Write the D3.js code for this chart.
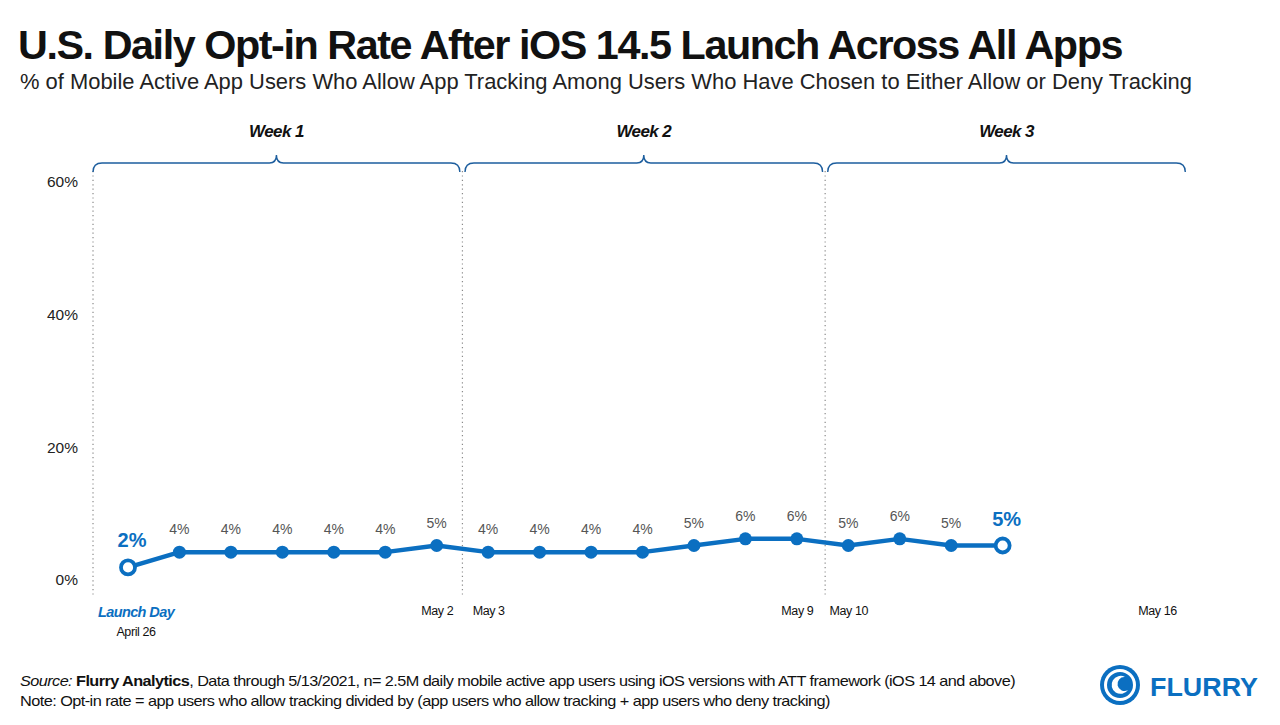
<!DOCTYPE html>
<html lang="en">
<head>
    <meta charset="UTF-8">
    <title>U.S. Daily Opt-in Rate</title>
    <script src="https://d3js.org/d3.v7.min.js"></script>
    <style>
        body { margin: 0; background: #fff; }
        text { font-family: "Liberation Sans", Arial, sans-serif; }
        .axis path, .axis line { display: none; }
    </style>
</head>
<body>
<div id="chart"></div>
<script>
    // data (day 0 = April 26)
    var days = ["Apr 26", "Apr 27", "Apr 28", "Apr 29", "Apr 30", "May 1", "May 2",
        "May 3", "May 4", "May 5", "May 6", "May 7", "May 8", "May 9",
        "May 10", "May 11", "May 12", "May 13"];
    var optIn = [1.9, 4.2, 4.2, 4.2, 4.2, 4.2, 5.2,
        4.2, 4.2, 4.2, 4.2, 5.2, 6.2, 6.2,
        5.2, 6.2, 5.2, 5.2];
    var tickDays = [6, 7, 13, 14, 20];
    var tickLabels = ["May 2", "May 3", "May 9", "May 10", "May 16"];
    var yTicks = [0, 20, 40, 60];
    var weeks = ["Week 1", "Week 2", "Week 3"];
    var weekStart = [-0.68, 6.55, 13.6];
    var weekEnd = [6.45, 13.5, 20.55];
    var dividers = [-0.68, 6.5, 13.55];

    var W = 1280, H = 725;
    var blue = "#0b6fc1", braceBlue = "#1d5e9e";

    var svg = d3.select("#chart").append("svg")
        .attr("width", W)
        .attr("height", H);

    var x = d3.scaleLinear().domain([0, 20]).range([128, 1157]);
    var y = d3.scaleLinear().domain([0, 60]).range([580, 182]);

    // title + subtitle
    svg.append("text")
        .attr("x", 18).attr("y", 59)
        .attr("font-size", 40).attr("font-weight", "bold")
        .attr("letter-spacing", -1.4)
        .attr("textLength", 1104).attr("lengthAdjust", "spacingAndGlyphs")
        .attr("fill", "#111")
        .text("U.S. Daily Opt-in Rate After iOS 14.5 Launch Across All Apps");

    svg.append("text")
        .attr("x", 20).attr("y", 89)
        .attr("font-size", 22)
        .attr("textLength", 1172).attr("lengthAdjust", "spacingAndGlyphs")
        .attr("fill", "#222")
        .text("% of Mobile Active App Users Who Allow App Tracking Among Users Who Have Chosen to Either Allow or Deny Tracking");

    // week dividers
    svg.selectAll(".divider")
        .data(dividers)
        .enter().append("line")
        .attr("class", "divider")
        .attr("x1", function (d) { return x(d); })
        .attr("x2", function (d) { return x(d); })
        .attr("y1", 171).attr("y2", 596)
        .attr("stroke", "#8a8a8a")
        .attr("stroke-width", 1.2)
        .attr("stroke-dasharray", "1.2,3.2");

    // week braces
    var braceY = 163;
    function brace(s, e) {
        var m = (s + e) / 2;
        return "M" + s + "," + (braceY + 9) +
            " Q" + s + "," + braceY + " " + (s + 9) + "," + braceY +
            " L" + (m - 7) + "," + braceY +
            " Q" + m + "," + braceY + " " + m + "," + (braceY - 8) +
            " Q" + m + "," + braceY + " " + (m + 7) + "," + braceY +
            " L" + (e - 9) + "," + braceY +
            " Q" + e + "," + braceY + " " + e + "," + (braceY + 9);
    }

    var wk = svg.selectAll(".week")
        .data(weeks)
        .enter().append("g")
        .attr("class", "week");

    wk.append("path")
        .attr("d", function (d, i) { return brace(x(weekStart[i]), x(weekEnd[i])); })
        .attr("fill", "none")
        .attr("stroke", braceBlue)
        .attr("stroke-width", 1.4);

    wk.append("text")
        .attr("x", function (d, i) { return (x(weekStart[i]) + x(weekEnd[i])) / 2; })
        .attr("y", 137)
        .attr("text-anchor", "middle")
        .attr("font-size", 17)
        .attr("font-weight", "bold")
        .attr("font-style", "italic")
        .attr("letter-spacing", -0.6)
        .attr("fill", "#111")
        .text(function (d) { return d; });

    // y axis labels
    svg.append("g")
        .attr("class", "axis")
        .attr("transform", "translate(93,0)")
        .call(d3.axisLeft(y).tickValues(yTicks).tickSize(0).tickPadding(15)
            .tickFormat(function (d) { return d + "%"; }))
        .selectAll("text")
        .attr("font-size", 15.5)
        .attr("font-family", "Liberation Sans, Arial, sans-serif")
        .attr("fill", "#222");

    // x axis labels
    svg.append("g")
        .attr("class", "axis")
        .attr("transform", "translate(0,606)")
        .call(d3.axisBottom(x).tickValues(tickDays).tickSize(0).tickPadding(0)
            .tickFormat(function (d, i) { return tickLabels[i]; }))
        .selectAll("text")
        .attr("font-size", 12.5)
        .attr("font-family", "Liberation Sans, Arial, sans-serif")
        .attr("letter-spacing", -0.4)
        .attr("fill", "#111");

    svg.append("text")
        .attr("x", x(0) + 8).attr("y", 617)
        .attr("text-anchor", "middle")
        .attr("font-size", 14.5).attr("font-weight", "bold").attr("font-style", "italic")
        .attr("letter-spacing", -0.6)
        .attr("fill", blue)
        .text("Launch Day");

    svg.append("text")
        .attr("x", x(0) + 8).attr("y", 636)
        .attr("text-anchor", "middle")
        .attr("font-size", 12.5)
        .attr("letter-spacing", -0.4)
        .attr("fill", "#111")
        .text("April 26");

    // line
    var line = d3.line()
        .x(function (d, i) { return x(i); })
        .y(function (d) { return y(d); });

    svg.append("path")
        .attr("d", line(optIn))
        .attr("fill", "none")
        .attr("stroke", blue)
        .attr("stroke-width", 4.5)
        .attr("stroke-linejoin", "round");

    var last = optIn.length - 1;

    svg.selectAll(".dot")
        .data(optIn)
        .enter().append("circle")
        .attr("class", "dot")
        .attr("cx", function (d, i) { return x(i); })
        .attr("cy", function (d) { return y(d); })
        .attr("r", function (d, i) { return (i === 0 || i === last) ? 7 : 6.5; })
        .attr("fill", function (d, i) { return (i === 0 || i === last) ? "#fff" : blue; })
        .attr("stroke", blue)
        .attr("stroke-width", function (d, i) { return (i === 0 || i === last) ? 3.8 : 0; });

    svg.selectAll(".val")
        .data(optIn)
        .enter().append("text")
        .attr("class", "val")
        .attr("x", function (d, i) { return x(i) + ((i === 0 || i === last) ? 4 : 0); })
        .attr("y", function (d, i) { return y(d) - ((i === 0 || i === last) ? 20 : 18); })
        .attr("text-anchor", "middle")
        .attr("font-size", function (d, i) { return (i === 0 || i === last) ? 20 : 14; })
        .attr("font-weight", function (d, i) { return (i === 0 || i === last) ? "bold" : "normal"; })
        .attr("fill", function (d, i) { return (i === 0 || i === last) ? blue : "#555"; })
        .text(function (d) { return Math.round(d) + "%"; });

    // footer
    var src = svg.append("text")
        .attr("x", 20).attr("y", 686)
        .attr("font-size", 14.5)
        .attr("letter-spacing", -0.5)
        .attr("textLength", 995).attr("lengthAdjust", "spacingAndGlyphs")
        .attr("fill", "#111");
    src.append("tspan").attr("font-style", "italic").text("Source: ");
    src.append("tspan").attr("font-weight", "bold").text("Flurry Analytics");
    src.append("tspan").text(", Data through 5/13/2021, n= 2.5M daily mobile active app users using iOS versions with ATT framework (iOS 14 and above)");

    svg.append("text")
        .attr("x", 20).attr("y", 706)
        .attr("font-size", 14.5)
        .attr("letter-spacing", -0.5)
        .attr("textLength", 810).attr("lengthAdjust", "spacingAndGlyphs")
        .attr("fill", "#111")
        .text("Note: Opt-in rate = app users who allow tracking divided by (app users who allow tracking + app users who deny tracking)");

    // logo
    var logo = svg.append("g").attr("transform", "translate(1120,685)");
    logo.append("circle").attr("r", 20).attr("fill", blue);
    logo.append("circle").attr("r", 14.5).attr("fill", "none").attr("stroke", "#fff").attr("stroke-width", 3);
    logo.append("path")
        .attr("d", "M5,-8 A9,9 0 1 0 8,5 A7,7 0 1 1 5,-8 Z")
        .attr("fill", "#fff");
    svg.append("text")
        .attr("x", 1150).attr("y", 696)
        .attr("font-size", 26).attr("font-weight", "bold")
        .attr("font-family", "DejaVu Sans, sans-serif")
        .attr("textLength", 108).attr("lengthAdjust", "spacingAndGlyphs")
        .attr("fill", blue)
        .text("FLURRY");
</script>
</body>
</html>
